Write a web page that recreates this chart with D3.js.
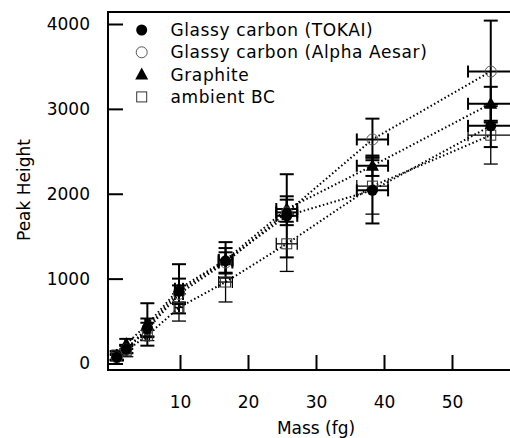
<!DOCTYPE html>
<meta charset="utf-8">
<html>
<head><title>Peak height vs mass</title>
<script src="https://cdn.jsdelivr.net/npm/d3@7/dist/d3.min.js"></script>
<style>
    body { margin: 0; background: #fff; }
    text { font-family: "DejaVu Sans", sans-serif; font-size: 17px; fill: #000; }
    .tick line { stroke: #000; stroke-width: 2; }
</style>
</head>
<body>
<script>
var W = 510, H = 438;

// mass (fg) of each size class
var mass = [0.7, 2.1, 5.2, 9.85, 16.7, 25.7, 38.3, 55.7];
// peak heights per sample, with error bars
var tokai = [75, 170, 420, 850, 1210, 1740, 2040, 2800];
var tokaiErr = [40, 50, 110, 150, 150, 490, 390, 250];
var alpha = [70, 165, 400, 820, 1190, 1780, 2640, 3440];
var alphaErr = [30, 40, 80, 100, 120, 150, 245, 600];
var graphite = [90, 230, 460, 880, 1220, 1820, 2330, 3060];
var graphiteErr = [50, 60, 250, 290, 210, 150, 120, 200];
var ambient = [100, 150, 330, 660, 960, 1410, 2090, 2690];
var ambientErr = [50, 70, 60, 160, 235, 325, 330, 340];
var massErrFrac = 0.06;

var xTicks = [10, 20, 30, 40, 50];
var yTicks = [0, 1000, 2000, 3000, 4000];
var names = ["Glassy carbon (TOKAI)", "Glassy carbon (Alpha Aesar)", "Graphite", "ambient BC"];

var x = d3.scaleLinear().domain([0, 50]).range([112, 452]);
var y = d3.scaleLinear().domain([0, 4000]).range([363.5, 24]);
var plotLeft = 108, plotRight = W, plotTop = 12, plotBottom = 370;

var svg = d3.select("body").append("svg").attr("width", W).attr("height", H);

var series = [
    {name: names[0], vals: tokai, err: tokaiErr, shape: "fcircle", ew: 2},
    {name: names[1], vals: alpha, err: alphaErr, shape: "ocircle", ew: 2},
    {name: names[2], vals: graphite, err: graphiteErr, shape: "triangle", ew: 2},
    {name: names[3], vals: ambient, err: ambientErr, shape: "square", ew: 1.3}
];

// dotted connecting lines
var line = d3.line().x(function(d) { return x(d[0]); }).y(function(d) { return y(d[1]); });
series.forEach(function(s) {
    svg.append("path")
        .attr("d", line(mass.map(function(m, i) { return [m, s.vals[i]]; })))
        .attr("fill", "none").attr("stroke", "#000")
        .attr("stroke-width", 2).attr("stroke-dasharray", "1.5,2.5");
});

// error bars
series.forEach(function(s) {
    var g = svg.append("g").attr("stroke", "#000").attr("stroke-width", s.ew);
    mass.forEach(function(m, i) {
        var cx = x(m), cy = y(s.vals[i]);
        var y1 = y(s.vals[i] + s.err[i]), y2 = y(s.vals[i] - s.err[i]);
        var xe = m * massErrFrac, x1 = x(m - xe), x2 = x(m + xe);
        g.append("line").attr("x1", cx).attr("x2", cx).attr("y1", y1).attr("y2", y2);
        g.append("line").attr("x1", cx - 7).attr("x2", cx + 7).attr("y1", y1).attr("y2", y1);
        g.append("line").attr("x1", cx - 7).attr("x2", cx + 7).attr("y1", y2).attr("y2", y2);
        g.append("line").attr("x1", x1).attr("x2", x2).attr("y1", cy).attr("y2", cy);
        g.append("line").attr("x1", x1).attr("x2", x1).attr("y1", cy - 6).attr("y2", cy + 6);
        g.append("line").attr("x1", x2).attr("x2", x2).attr("y1", cy - 6).attr("y2", cy + 6);
    });
});

function marker(g, shape, cx, cy) {
    if (shape == "fcircle") {
        g.append("circle").attr("cx", cx).attr("cy", cy).attr("r", 5.5).attr("fill", "#000");
    } else if (shape == "ocircle") {
        g.append("circle").attr("cx", cx).attr("cy", cy).attr("r", 5.5)
            .attr("fill", "none").attr("stroke", "#555").attr("stroke-width", 1);
    } else if (shape == "triangle") {
        g.append("path").attr("d", "M" + cx + "," + (cy - 7) + "L" + (cx + 6.5) + "," + (cy + 5) + "L" + (cx - 6.5) + "," + (cy + 5) + "Z")
            .attr("fill", "#000");
    } else {
        g.append("rect").attr("x", cx - 5).attr("y", cy - 5).attr("width", 10).attr("height", 10)
            .attr("fill", "none").attr("stroke", "#333").attr("stroke-width", 1);
    }
}

series.slice().reverse().forEach(function(s) {
    var g = svg.append("g");
    mass.forEach(function(m, i) { marker(g, s.shape, x(m), y(s.vals[i])); });
});

// axes
var yAxis = d3.axisLeft(y).tickValues(yTicks).tickSize(-15).tickPadding(18).tickFormat(d3.format("d"));
svg.append("g").attr("transform", "translate(" + plotLeft + ",0)").call(yAxis)
    .call(function(g) { g.select(".domain").remove(); })
    .selectAll("text").style("font-family", "DejaVu Sans").style("font-size", "17px");

var xAxis = d3.axisBottom(x).tickValues(xTicks).tickSize(-15).tickPadding(26);
svg.append("g").attr("transform", "translate(0," + plotBottom + ")").call(xAxis)
    .call(function(g) { g.select(".domain").remove(); })
    .selectAll("text").style("font-family", "DejaVu Sans").style("font-size", "17px");

// frame
svg.append("path")
    .attr("d", "M" + plotRight + "," + plotTop + "H" + plotLeft + "V" + plotBottom + "H" + plotRight)
    .attr("fill", "none").attr("stroke", "#000").attr("stroke-width", 2);

// legend
var leg = svg.append("g");
series.forEach(function(s, i) {
    var ly = 30 + i * 22.3;
    marker(leg, s.shape, 141.7, ly);
    leg.append("text").attr("x", 170.5).attr("y", ly).attr("dy", "0.36em")
        .style("letter-spacing", "0.6px").text(s.name);
});

// axis titles
svg.append("text").attr("x", 316).attr("y", 428).attr("dy", "0.36em")
    .attr("text-anchor", "middle").text("Mass (fg)");
svg.append("text").attr("transform", "translate(24,190) rotate(-90)")
    .attr("dy", "0.36em").attr("text-anchor", "middle").text("Peak Height");
</script>
</body>
</html>
